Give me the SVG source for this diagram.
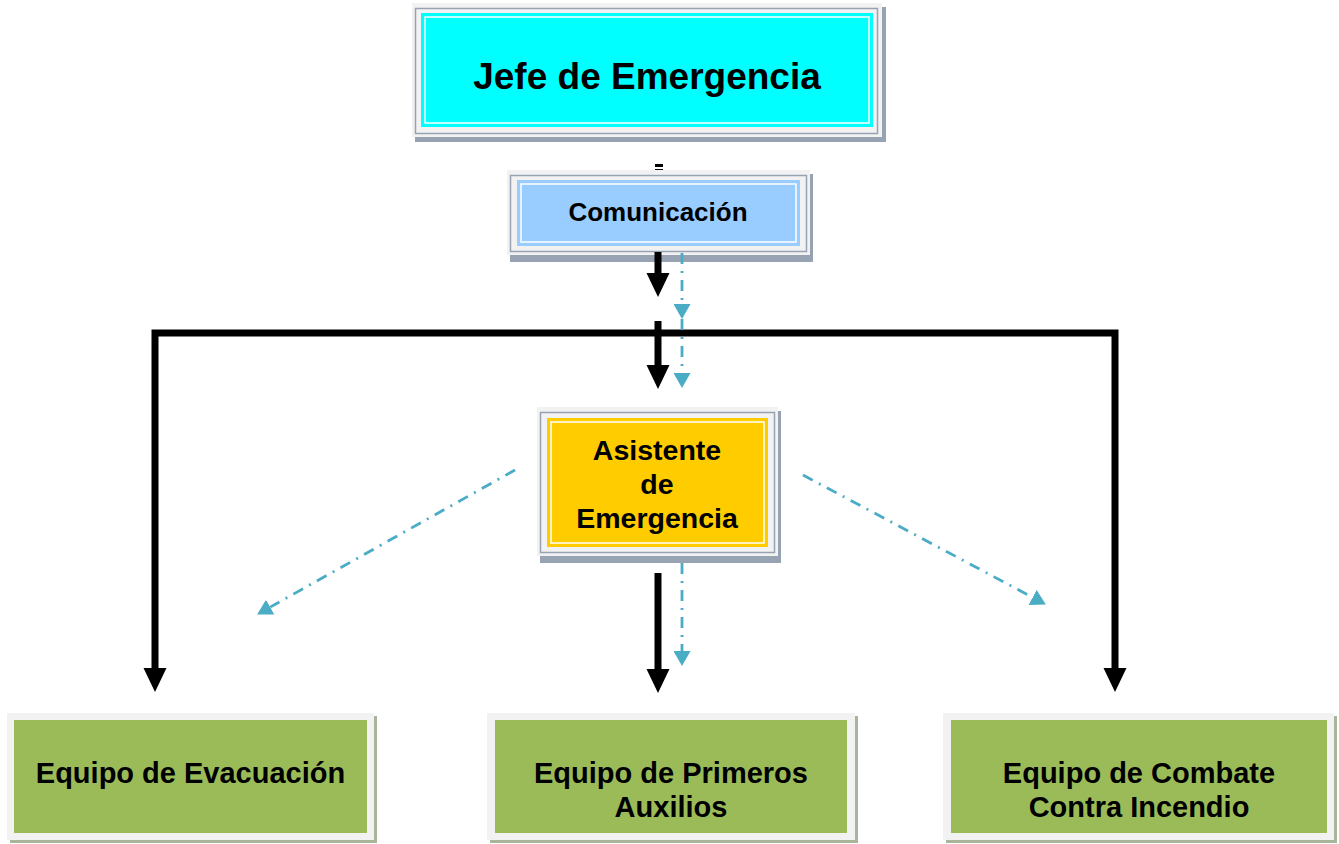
<svg xmlns="http://www.w3.org/2000/svg" width="1339" height="844" viewBox="0 0 1339 844">
<style>
  .lbl{font-family:"Liberation Sans",Arial,sans-serif;font-weight:bold;fill:#000;text-anchor:middle}
  .frame{fill:#f2f2f2}
  .shadow{fill:#97a2b2}
  .gshadow{fill:#a9b59a}
  .inner{fill:none;stroke:#97a2b2;stroke-width:1.5}
  .blk{fill:none;stroke:#000;stroke-width:7}
  .teal{fill:none;stroke:#4bacc6;stroke-width:2.8;stroke-dasharray:11 7 2 7}
</style>
<defs>
  <marker id="ab" markerUnits="userSpaceOnUse" markerWidth="25" markerHeight="24" refX="0" refY="11.5" orient="auto-start-reverse" viewBox="0 0 25 23">
    <path d="M0,0 L24,11.5 L0,23 z" fill="#000"/>
  </marker>
  <marker id="at" markerUnits="userSpaceOnUse" markerWidth="15" markerHeight="17" refX="0" refY="8.5" orient="auto" viewBox="0 0 15 17">
    <path d="M0,0 L15,8.5 L0,17 z" fill="#4bacc6"/>
  </marker>
</defs>

<g id="jefe">
  <rect class="shadow" x="415" y="7" width="471" height="135"/>
  <rect class="frame" x="412" y="3" width="470" height="134"/>
  <rect class="inner" x="415.5" y="8.5" width="462" height="125"/>
  <rect x="421" y="13" width="452" height="114" fill="#00ffff"/>
  <rect x="425" y="17" width="444" height="106" fill="none" stroke="#fff" stroke-width="1.5"/>
  <text class="lbl" x="647" y="89" font-size="37">Jefe de Emergencia</text>
</g>

<g id="comunicacion">
  <rect x="655" y="164" width="8" height="3" fill="#000"/>
  <rect x="655" y="169" width="8" height="4" fill="#000"/>
  <rect class="shadow" x="510" y="174" width="303" height="88"/>
  <rect class="frame" x="507" y="170" width="303" height="85"/>
  <rect class="inner" x="510.5" y="175.5" width="296" height="76"/>
  <rect x="517" y="180" width="283" height="66" fill="#99ccff"/>
  <rect x="521" y="184" width="275" height="58" fill="none" stroke="#fff" stroke-width="1.5"/>
  <text class="lbl" x="658" y="221" font-size="26">Comunicación</text>
</g>

<g id="asistente">
  <rect class="shadow" x="540" y="411" width="241" height="152"/>
  <rect class="frame" x="537" y="407" width="241" height="149"/>
  <rect class="inner" x="540.5" y="412.5" width="234" height="140"/>
  <rect x="547" y="418" width="221" height="129" fill="#ffcc00"/>
  <rect x="551" y="422" width="213" height="121" fill="none" stroke="#fff" stroke-width="1.5"/>
  <text class="lbl" x="657" y="460" font-size="28.5">Asistente</text>
  <text class="lbl" x="657" y="494" font-size="28.5">de</text>
  <text class="lbl" x="657" y="528" font-size="28.5">Emergencia</text>
</g>

<g id="evacuacion">
  <rect class="gshadow" x="10" y="716" width="367" height="127"/>
  <rect class="frame" x="7" y="713" width="367" height="127"/>
  <rect x="14" y="720" width="353" height="113" fill="#9bbb59"/>
  <text class="lbl" x="190.5" y="783" font-size="29">Equipo de Evacuación</text>
</g>

<g id="primeros">
  <rect class="gshadow" x="490" y="716" width="368" height="127"/>
  <rect class="frame" x="487" y="713" width="368" height="127"/>
  <rect x="495" y="720" width="352" height="113" fill="#9bbb59"/>
  <text class="lbl" x="671" y="783" font-size="29">Equipo de Primeros</text>
  <text class="lbl" x="671" y="817" font-size="29">Auxilios</text>
</g>

<g id="combate">
  <rect class="gshadow" x="946" y="716" width="391" height="127"/>
  <rect class="frame" x="943" y="713" width="391" height="127"/>
  <rect x="951" y="720" width="376" height="113" fill="#9bbb59"/>
  <text class="lbl" x="1139" y="783" font-size="29">Equipo de Combate</text>
  <text class="lbl" x="1139" y="817" font-size="29">Contra Incendio</text>
</g>

<g id="connectors">
  <path class="blk" d="M658,252 L658,273" marker-end="url(#ab)"/>
  <path class="blk" d="M658,321 L658,365" marker-end="url(#ab)"/>
  <path class="blk" d="M155,668 L155,333 L1115,333 L1115,668" marker-start="url(#ab)" marker-end="url(#ab)"/>
  <path class="blk" d="M658,573 L658,669" marker-end="url(#ab)"/>
  <path class="teal" d="M682,253 L682,304" marker-end="url(#at)"/>
  <path class="teal" d="M682,319 L682,373" marker-end="url(#at)"/>
  <path class="teal" d="M682,563 L682,651" marker-end="url(#at)"/>
  <path class="teal" d="M515,470 L270.2,607.1" marker-end="url(#at)"/>
  <path class="teal" d="M803,475 L1032.6,597.4" marker-end="url(#at)"/>
</g>
</svg>
